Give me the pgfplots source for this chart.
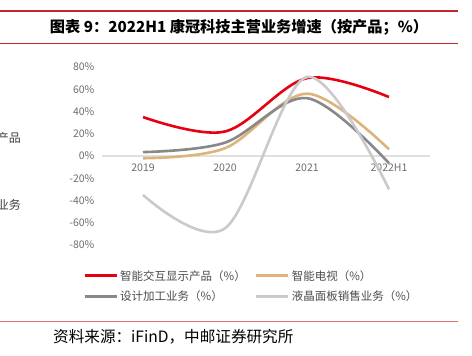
\documentclass[border=0pt]{standalone}
\usepackage{fontspec}
\setmainfont{Noto Sans CJK SC}
\usepackage{pgfplots}
\pgfplotsset{compat=1.18}
\definecolor{cred}{HTML}{E60012}
\definecolor{ctan}{HTML}{DDB47A}
\definecolor{cgray}{HTML}{88888A}
\definecolor{clgray}{HTML}{CACACA}
\definecolor{ctick}{HTML}{6E6E6E}
\definecolor{ctopred}{HTML}{C0282D}
\definecolor{cfootred}{HTML}{E07070}
\begin{document}
\begin{tikzpicture}[x=1bp,y=1bp]
\clip (0,0) rectangle (472,355);
\fill[white] (0,0) rectangle (472,355);
% header
\draw[ctopred, line width=1.2bp] (0,344) -- (458,344);
\draw[ctopred, line width=0.8bp] (0,312) -- (458,312);
\node[font=\bfseries\fontsize{15.2bp}{17bp}\selectfont, anchor=center] at (239,328) {图表 9：2022H1 康冠科技主营业务增速（按产品；\%）};
% footer
\draw[cfootred, line width=0.8bp] (0,33.5) -- (458,33.5);
\node[font=\fontsize{15.6bp}{17bp}\selectfont, anchor=west, inner sep=0pt] at (53,18) {资料来源：iFinD，中邮证券研究所};
% left fragments
\node[font=\fontsize{12bp}{14bp}\selectfont, anchor=east, inner sep=0pt, text=black!75] at (21,217) {显示产品};
\node[font=\fontsize{12bp}{14bp}\selectfont, anchor=east, inner sep=0pt, text=black!75] at (21,150) {板销售业务};
\begin{axis}[
  at={(102bp,199bp)}, anchor=origin,
  scale only axis, width=328bp, height=178bp,
  xmin=0, xmax=4, ymin=-80, ymax=80,
  axis x line=middle, axis y line=left,
  x axis line style={draw=black!12, line width=1.2bp, -},
  y axis line style={draw=none},
  xtick={0.5,1.5,2.5,3.5}, xticklabels={2019,2020,2021,2022H1},
  ytick={-80,-60,...,80},
  yticklabel={\pgfmathprintnumber{\tick}\%},
  /pgf/number format/assume math mode=true,
  /pgf/number format/.cd, fixed, precision=0, /pgfplots/.cd,
  tick style={draw=none},
  ticklabel style={font=\fontsize{10.5bp}{12bp}\selectfont, text=ctick},
  yticklabel style={xshift=-2bp},
  xticklabel style={yshift=-2bp},
  clip=false,
  legend columns=2,
  legend cell align=left,
  legend style={draw=none, fill=none, at={(axis description cs:-0.058,-0.129)}, anchor=north west,
    font=\fontsize{11.5bp}{13bp}\selectfont, text=black!70,
    /tikz/every even column/.append style={column sep=7bp},
    row sep=5bp, inner sep=0pt},
  legend image code/.code={\draw[#1, line width=3bp] (0bp,0bp) -- (32bp,0bp);},
  every axis plot/.append style={line width=2.6bp, smooth, tension=0.55},
]
\addplot[cred] coordinates {(0.5,35) (1.5,22) (2.5,70) (3.5,53)};
\addlegendentry{智能交互显示产品（\%）}
\addplot[ctan] coordinates {(0.5,-2) (1.5,7) (2.5,56) (3.5,6)};
\addlegendentry{智能电视（\%）}
\addplot[cgray] coordinates {(0.5,3.5) (1.5,12) (2.5,52) (3.5,-6.5)};
\addlegendentry{设计加工业务（\%）}
\addplot[clgray] coordinates {(0.5,-35) (1.5,-65) (2.5,71) (3.5,-30)};
\addlegendentry{液晶面板销售业务（\%）}
\end{axis}
\end{tikzpicture}
\end{document}
